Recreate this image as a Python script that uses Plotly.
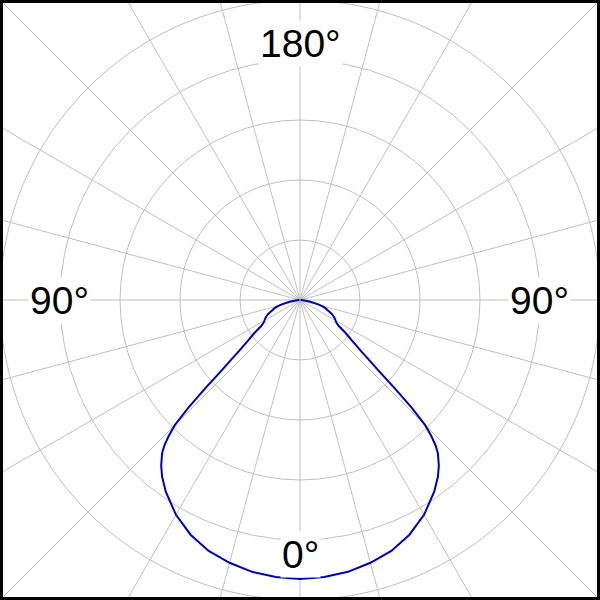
import math
import plotly.graph_objects as go

# Photometric data (half-plane, symmetric), gamma angle in degrees from nadir
gamma_deg = [0, 5, 10, 15, 20, 25, 30, 35, 38, 40, 42, 43, 44, 45, 46, 47, 48, 49,
             50, 52, 54, 56, 58, 60, 62, 64, 66, 68, 70, 72, 74, 76, 78, 80, 82, 84,
             86, 88, 90]
intensity_cd = [232.5, 231.7, 230.0, 226.7, 222.5, 215.8, 206.7, 195.0, 186.7, 180.0,
                171.7, 165.8, 157.5, 147.5, 130.0, 108.3, 88.3, 76.7, 66.7, 55.0,
                47.5, 39.2, 35.8, 34.2, 32.9, 31.3, 29.2, 26.7, 24.2, 22.5, 20.0,
                16.7, 12.5, 8.8, 5.8, 3.8, 2.5, 1.3, 0.4]

ring_values = [50, 100, 150, 200, 250]
spoke_angles = list(range(0, 360, 15))
angle_labels = ["180°", "90°", "90°", "0°"]

theta = [-a for a in reversed(gamma_deg)] + gamma_deg[1:]
r = list(reversed(intensity_cd)) + intensity_cd[1:]

fig = go.Figure()
fig.add_trace(go.Scatterpolar(
    r=r, theta=theta, mode="lines",
    line=dict(color="#0000c0", width=2),
    hoverinfo="skip", showlegend=False,
))

grid_col = "#c0c0c0"
shapes = []
for a in spoke_angles:
    rad = math.radians(a)
    c, s = math.cos(rad), math.sin(rad)
    t = 0.5 / max(abs(c), abs(s))
    shapes.append(dict(type="line", xref="paper", yref="paper",
                       x0=0.5, y0=0.5, x1=0.5 + t * c, y1=0.5 + t * s,
                       line=dict(color=grid_col, width=1), layer="below"))
shapes.append(dict(type="rect", xref="paper", yref="paper",
                   x0=0.0025, y0=0.0025, x1=0.9975, y1=0.9975,
                   line=dict(color="black", width=3), fillcolor="rgba(0,0,0,0)",
                   layer="above"))

label_pos = [(0.5, 1 - 43.5 / 600), (59.5 / 600, 0.5), (539.5 / 600, 0.5), (0.5, 1 - 554 / 600)]
annotations = []
for txt, (x, y) in zip(angle_labels, label_pos):
    annotations.append(dict(text=txt, x=x, y=y, xref="paper", yref="paper",
                            showarrow=False, xanchor="center", yanchor="middle",
                            font=dict(family="Liberation Sans, Arial", size=39, color="black"),
                            bgcolor="white", borderpad=1))

fig.update_layout(
    width=600, height=600,
    margin=dict(l=0, r=0, t=0, b=0),
    paper_bgcolor="white", plot_bgcolor="white",
    polar=dict(
        domain=dict(x=[0, 1], y=[0, 1]),
        bgcolor="rgba(0,0,0,0)",
        radialaxis=dict(range=[0, 250], tickvals=ring_values, showticklabels=False,
                        ticks="", showline=False, gridcolor=grid_col, gridwidth=1),
        angularaxis=dict(rotation=-90, direction="clockwise", showgrid=False,
                         showticklabels=False, ticks="", showline=True,
                         linecolor=grid_col, linewidth=1),
    ),
    shapes=shapes,
    annotations=annotations,
    showlegend=False,
)

fig.write_html("out.html", config={"displayModeBar": False},
               post_script="document.body.style.margin='0';document.body.style.overflow='hidden';")
